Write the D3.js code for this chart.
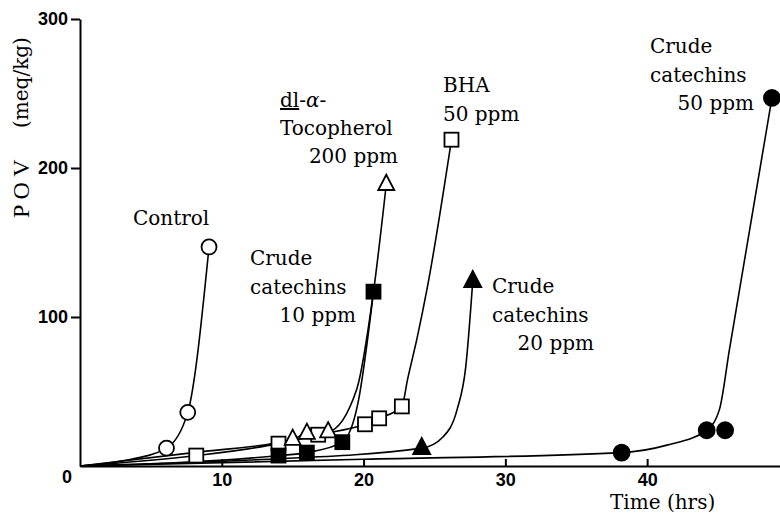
<!DOCTYPE html>
<html>
<head>
<meta charset="utf-8">
<title>POV vs time</title>
<script src="https://cdn.jsdelivr.net/npm/d3@7"></script>
<style>
  body { margin: 0; background: #fff; }
  .lbl { font-family: "DejaVu Serif", serif; font-size: 20px; fill: #000; }
  .tick text, .zero { font-family: "Liberation Sans", Arial, sans-serif; font-weight: bold; font-size: 18px; fill: #000; }
  .curve { fill: none; stroke: #000; stroke-width: 1.6; }
</style>
</head>
<body>
<svg id="chart" width="780" height="514"></svg>
<script>
// markers: time (hrs) and POV (meq/kg)
var controlHrs = [6.1, 7.6, 9.1],                       controlPov = [12, 36, 147];
var bhaHrs = [8.2, 14.0, 16.8, 20.1, 21.1, 22.7, 26.2], bhaPov = [7, 15, 21, 28, 32, 40, 219];
var tocoHrs = [15.0, 16.0, 17.5, 21.6],                 tocoPov = [18, 22, 23, 189];
var cat10Hrs = [14.0, 16.0, 18.5, 20.7],                cat10Pov = [7, 9, 16, 117];
var cat20Hrs = [24.1, 27.7],                            cat20Pov = [12, 124];
var cat50Hrs = [38.2, 44.2, 45.5, 48.8],                cat50Pov = [9, 24, 24, 247];

// hand-drawn curves [hrs, POV]
var controlLine = [[0, 0], [3, 3.5], [6.1, 12], [7.6, 36], [9.1, 147]];
var bhaLine = [[0, 0], [8.2, 7], [14, 15], [16.8, 21], [20.1, 28], [21.1, 32], [22.7, 40], [23.1, 58], [23.8, 87], [24.5, 120], [26.2, 219]];
var tocoLine = [[0, 0], [8, 9], [15, 18], [16, 22], [17.5, 23], [19.5, 51], [20.7, 117], [21.6, 189]];
var cat10Line = [[0, 0], [14, 7], [16, 9], [18.5, 16], [19.6, 42], [20.7, 117]];
var cat20Line = [[0, 0], [12, 4], [24.1, 12], [25.6, 19.5], [26.6, 38], [27.2, 66], [27.7, 124]];
var cat50Line = [[0, 0], [20, 4.5], [38.2, 9], [41.4, 14], [44.2, 24], [45.1, 38], [45.8, 78], [48.8, 247]];

var xTicks = [10, 20, 30, 40];
var yTicks = [100, 200, 300];

var svg = d3.select("#chart");
var x = d3.scaleLinear().domain([0, 49.37]).range([80, 780]);
var y = d3.scaleLinear().domain([0, 300]).range([466, 19]);

// axes
svg.append("g")
  .attr("transform", "translate(80,0)")
  .call(d3.axisLeft(y).tickValues(yTicks).tickSizeInner(9).tickSizeOuter(0).tickPadding(3))
  .call(function(g) { g.selectAll("line, path").attr("stroke", "#000").attr("stroke-width", 2); });

svg.append("g")
  .attr("transform", "translate(0,466)")
  .call(d3.axisBottom(x).tickValues(xTicks).tickSizeInner(-7).tickSizeOuter(0).tickPadding(7))
  .call(function(g) {
    g.selectAll("line, path").attr("stroke", "#000").attr("stroke-width", 2);
    g.selectAll(".tick text").attr("dy", "0.71em");
  });

svg.append("text").attr("class", "zero")
  .attr("x", x(0) - 13).attr("y", y(0) + 17)
  .attr("text-anchor", "middle").text("0");

// curves
var line = d3.line().x(function(d) { return x(d[0]); }).y(function(d) { return y(d[1]); })
  .curve(d3.curveMonotoneX);
[controlLine, bhaLine, tocoLine, cat10Line, cat20Line, cat50Line].forEach(function(l) {
  svg.append("path").attr("class", "curve").attr("d", line(l));
});

function pts(hrs, pov) { return hrs.map(function(h, i) { return [h, pov[i]]; }); }

function circles(data, fill, r) {
  svg.selectAll(null).data(data).enter().append("circle")
    .attr("cx", function(d) { return x(d[0]); })
    .attr("cy", function(d) { return y(d[1]); })
    .attr("r", r).attr("fill", fill).attr("stroke", "#000").attr("stroke-width", 1.8);
}
function squares(data, fill, s) {
  svg.selectAll(null).data(data).enter().append("rect")
    .attr("x", function(d) { return x(d[0]) - s / 2; })
    .attr("y", function(d) { return y(d[1]) - s / 2; })
    .attr("width", s).attr("height", s)
    .attr("fill", fill).attr("stroke", "#000").attr("stroke-width", 1.8);
}
function triangles(data, fill, s) {
  svg.selectAll(null).data(data).enter().append("path")
    .attr("transform", function(d) { return "translate(" + x(d[0]) + "," + y(d[1]) + ")"; })
    .attr("d", "M0," + (-s * 0.6) + "L" + (s / 2) + "," + (s * 0.35) + "L" + (-s / 2) + "," + (s * 0.35) + "Z")
    .attr("fill", fill).attr("stroke", "#000").attr("stroke-width", 1.8).attr("stroke-linejoin", "miter");
}

squares(pts(bhaHrs, bhaPov), "#fff", 14);
triangles(pts(tocoHrs, tocoPov), "#fff", 16);
squares(pts(cat10Hrs, cat10Pov), "#000", 14);
triangles(pts(cat20Hrs, cat20Pov), "#000", 17);
circles(pts(cat50Hrs, cat50Pov), "#000", 8);
circles(pts(controlHrs, controlPov), "#fff", 7.5);

// labels
function label(lines, x0, y0, anchorRight) {
  lines.forEach(function(t, i) {
    svg.append("text").attr("class", "lbl")
      .attr("x", t.right ? anchorRight : x0).attr("y", y0 + i * 28.5)
      .attr("text-anchor", t.right ? "end" : "start").text(t.s);
  });
}
label([{s: "Control"}], 133, 225);
label([{s: "Crude"}, {s: "catechins"}, {s: "10 ppm", right: true}], 250, 265, 356);
label([{s: "Crude"}, {s: "catechins"}, {s: "20 ppm", right: true}], 492, 293, 594);
label([{s: "Crude"}, {s: "catechins"}, {s: "50 ppm", right: true}], 650, 53, 754);
label([{s: "BHA"}, {s: "50 ppm"}], 443, 92);

var toco = svg.append("text").attr("class", "lbl").attr("x", 280).attr("y", 107);
toco.append("tspan").attr("text-decoration", "underline").text("dl");
toco.append("tspan").text("-");
toco.append("tspan").attr("font-style", "italic").text("α");
toco.append("tspan").text("-");
svg.append("text").attr("class", "lbl").attr("x", 280).attr("y", 135).text("Tocopherol");
svg.append("text").attr("class", "lbl").attr("x", 398).attr("y", 163).attr("text-anchor", "end").text("200 ppm");

// axis titles
svg.append("text").attr("class", "lbl").attr("x", 610).attr("y", 509).text("Time (hrs)");
svg.append("text")
  .attr("transform", "translate(29,218) rotate(-90)")
  .attr("font-family", "'Liberation Serif', serif").attr("font-size", 24).text("P O V");
svg.append("text").attr("class", "lbl")
  .attr("transform", "translate(28,128) rotate(-90)")
  .attr("font-size", 18).text("(meq/kg)");
</script>
</body>
</html>
